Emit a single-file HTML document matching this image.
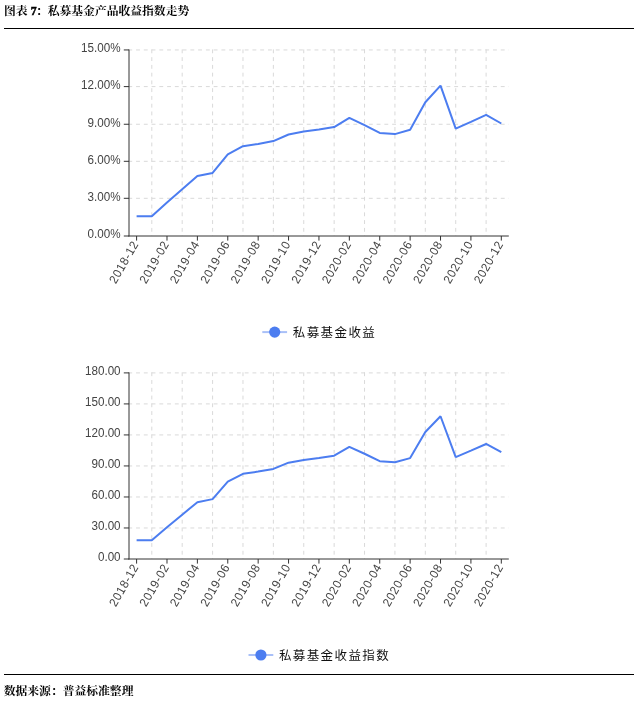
<!DOCTYPE html>
<html><head><meta charset="utf-8"><title>私募基金产品收益指数走势</title>
<style>
html,body{margin:0;padding:0;background:#fff;}
body{width:643px;height:702px;overflow:hidden;font-family:"Liberation Sans",sans-serif;}
svg{display:block;will-change:transform}
svg text{font-family:"Liberation Sans",sans-serif;font-size:12.15px;fill:#444;}
svg text.xl{letter-spacing:0.62px}
</style></head><body>
<svg width="643" height="702" viewBox="0 0 643 702">
<rect width="643" height="702" fill="#fff"/>
<text x="4" y="15.1" style="font-family:'Liberation Serif','Noto Serif CJK SC',serif;font-weight:bold;font-size:11.8px;fill:#000">图表</text><text x="30.8" y="14.85" style="font-family:'Liberation Serif',serif;font-weight:bold;font-size:11.8px;fill:#000;stroke:#000;stroke-width:0.5px">7</text><text x="35.9" y="15.1" style="font-family:'Liberation Serif','Noto Serif CJK SC',serif;font-weight:bold;font-size:11.8px;fill:#000">：私募基金产品收益指数走势</text>
<path d="M4 28.5H634M4 674.5H634" stroke="#000" stroke-width="1"/>
<path d="M128.3 49.95H508.8M128.3 86.60H508.8M128.3 124.25H508.8M128.3 161.30H508.8M128.3 198.30H508.8M151.80 49.40V236.0M182.19 49.40V236.0M212.58 49.40V236.0M242.97 49.40V236.0M273.36 49.40V236.0M303.76 49.40V236.0M334.15 49.40V236.0M364.54 49.40V236.0M394.93 49.40V236.0M425.32 49.40V236.0M455.72 49.40V236.0M486.11 49.40V236.0" stroke="#d9d9d9" stroke-width="1" stroke-dasharray="3.88 3.88" fill="none"/>
<path d="M129.0 49.50V236.50M128.5 236.0H508.8M123.80 49.95H129.0M123.80 86.60H129.0M123.80 124.25H129.0M123.80 161.30H129.0M123.80 198.30H129.0M123.80 236.00H129.0M136.60 236.0V240.60M166.99 236.0V240.60M197.38 236.0V240.60M227.78 236.0V240.60M258.17 236.0V240.60M288.56 236.0V240.60M318.95 236.0V240.60M349.34 236.0V240.60M379.74 236.0V240.60M410.13 236.0V240.60M440.52 236.0V240.60M470.91 236.0V240.60M501.30 236.0V240.60" stroke="#333" stroke-width="1" fill="none"/>
<text transform="translate(120.6 52.25) scale(0.96 1)" text-anchor="end">15.00%</text>
<text transform="translate(120.6 88.90) scale(0.96 1)" text-anchor="end">12.00%</text>
<text transform="translate(120.6 126.55) scale(0.96 1)" text-anchor="end">9.00%</text>
<text transform="translate(120.6 163.60) scale(0.96 1)" text-anchor="end">6.00%</text>
<text transform="translate(120.6 200.60) scale(0.96 1)" text-anchor="end">3.00%</text>
<text transform="translate(120.6 238.30) scale(0.96 1)" text-anchor="end">0.00%</text>
<text class="xl" transform="translate(135.10 242.10) rotate(-60) scale(0.96 1)" x="0.62" y="4.35" text-anchor="end">2018-12</text>
<text class="xl" transform="translate(165.49 242.10) rotate(-60) scale(0.96 1)" x="0.62" y="4.35" text-anchor="end">2019-02</text>
<text class="xl" transform="translate(195.88 242.10) rotate(-60) scale(0.96 1)" x="0.62" y="4.35" text-anchor="end">2019-04</text>
<text class="xl" transform="translate(226.28 242.10) rotate(-60) scale(0.96 1)" x="0.62" y="4.35" text-anchor="end">2019-06</text>
<text class="xl" transform="translate(256.67 242.10) rotate(-60) scale(0.96 1)" x="0.62" y="4.35" text-anchor="end">2019-08</text>
<text class="xl" transform="translate(287.06 242.10) rotate(-60) scale(0.96 1)" x="0.62" y="4.35" text-anchor="end">2019-10</text>
<text class="xl" transform="translate(317.45 242.10) rotate(-60) scale(0.96 1)" x="0.62" y="4.35" text-anchor="end">2019-12</text>
<text class="xl" transform="translate(347.84 242.10) rotate(-60) scale(0.96 1)" x="0.62" y="4.35" text-anchor="end">2020-02</text>
<text class="xl" transform="translate(378.24 242.10) rotate(-60) scale(0.96 1)" x="0.62" y="4.35" text-anchor="end">2020-04</text>
<text class="xl" transform="translate(408.63 242.10) rotate(-60) scale(0.96 1)" x="0.62" y="4.35" text-anchor="end">2020-06</text>
<text class="xl" transform="translate(439.02 242.10) rotate(-60) scale(0.96 1)" x="0.62" y="4.35" text-anchor="end">2020-08</text>
<text class="xl" transform="translate(469.41 242.10) rotate(-60) scale(0.96 1)" x="0.62" y="4.35" text-anchor="end">2020-10</text>
<text class="xl" transform="translate(499.80 242.10) rotate(-60) scale(0.96 1)" x="0.62" y="4.35" text-anchor="end">2020-12</text>
<polyline points="136.60,216.15 151.80,216.15 166.99,202.50 182.19,189.30 197.38,176.10 212.58,172.90 227.78,154.40 242.97,146.20 258.17,143.90 273.36,141.10 288.56,134.50 303.76,131.60 318.95,129.50 334.15,127.10 349.34,117.80 364.54,125.10 379.74,132.90 394.93,134.10 410.13,129.70 425.32,102.20 440.52,85.60 455.72,128.60 470.91,121.80 486.11,114.80 501.30,123.50" fill="none" stroke="#4c7df0" stroke-width="2" stroke-linejoin="bevel"/>
<path d="M128.3 372.90H508.8M128.3 403.92H508.8M128.3 434.93H508.8M128.3 465.95H508.8M128.3 496.97H508.8M128.3 527.98H508.8M151.80 372.30V559.0M182.19 372.30V559.0M212.58 372.30V559.0M242.97 372.30V559.0M273.36 372.30V559.0M303.76 372.30V559.0M334.15 372.30V559.0M364.54 372.30V559.0M394.93 372.30V559.0M425.32 372.30V559.0M455.72 372.30V559.0M486.11 372.30V559.0" stroke="#d9d9d9" stroke-width="1" stroke-dasharray="3.88 3.88" fill="none"/>
<path d="M129.0 372.40V559.50M128.5 559.0H508.8M123.80 372.90H129.0M123.80 403.92H129.0M123.80 434.93H129.0M123.80 465.95H129.0M123.80 496.97H129.0M123.80 527.98H129.0M123.80 559.00H129.0M136.60 559.0V563.60M166.99 559.0V563.60M197.38 559.0V563.60M227.78 559.0V563.60M258.17 559.0V563.60M288.56 559.0V563.60M318.95 559.0V563.60M349.34 559.0V563.60M379.74 559.0V563.60M410.13 559.0V563.60M440.52 559.0V563.60M470.91 559.0V563.60M501.30 559.0V563.60" stroke="#333" stroke-width="1" fill="none"/>
<text transform="translate(120.6 375.20) scale(0.96 1)" text-anchor="end">180.00</text>
<text transform="translate(120.6 406.22) scale(0.96 1)" text-anchor="end">150.00</text>
<text transform="translate(120.6 437.23) scale(0.96 1)" text-anchor="end">120.00</text>
<text transform="translate(120.6 468.25) scale(0.96 1)" text-anchor="end">90.00</text>
<text transform="translate(120.6 499.27) scale(0.96 1)" text-anchor="end">60.00</text>
<text transform="translate(120.6 530.28) scale(0.96 1)" text-anchor="end">30.00</text>
<text transform="translate(120.6 561.30) scale(0.96 1)" text-anchor="end">0.00</text>
<text class="xl" transform="translate(135.10 565.10) rotate(-60) scale(0.96 1)" x="0.62" y="4.35" text-anchor="end">2018-12</text>
<text class="xl" transform="translate(165.49 565.10) rotate(-60) scale(0.96 1)" x="0.62" y="4.35" text-anchor="end">2019-02</text>
<text class="xl" transform="translate(195.88 565.10) rotate(-60) scale(0.96 1)" x="0.62" y="4.35" text-anchor="end">2019-04</text>
<text class="xl" transform="translate(226.28 565.10) rotate(-60) scale(0.96 1)" x="0.62" y="4.35" text-anchor="end">2019-06</text>
<text class="xl" transform="translate(256.67 565.10) rotate(-60) scale(0.96 1)" x="0.62" y="4.35" text-anchor="end">2019-08</text>
<text class="xl" transform="translate(287.06 565.10) rotate(-60) scale(0.96 1)" x="0.62" y="4.35" text-anchor="end">2019-10</text>
<text class="xl" transform="translate(317.45 565.10) rotate(-60) scale(0.96 1)" x="0.62" y="4.35" text-anchor="end">2019-12</text>
<text class="xl" transform="translate(347.84 565.10) rotate(-60) scale(0.96 1)" x="0.62" y="4.35" text-anchor="end">2020-02</text>
<text class="xl" transform="translate(378.24 565.10) rotate(-60) scale(0.96 1)" x="0.62" y="4.35" text-anchor="end">2020-04</text>
<text class="xl" transform="translate(408.63 565.10) rotate(-60) scale(0.96 1)" x="0.62" y="4.35" text-anchor="end">2020-06</text>
<text class="xl" transform="translate(439.02 565.10) rotate(-60) scale(0.96 1)" x="0.62" y="4.35" text-anchor="end">2020-08</text>
<text class="xl" transform="translate(469.41 565.10) rotate(-60) scale(0.96 1)" x="0.62" y="4.35" text-anchor="end">2020-10</text>
<text class="xl" transform="translate(499.80 565.10) rotate(-60) scale(0.96 1)" x="0.62" y="4.35" text-anchor="end">2020-12</text>
<polyline points="136.60,540.16 151.80,540.16 166.99,527.21 182.19,514.68 197.38,502.15 212.58,499.12 227.78,481.56 242.97,473.78 258.17,471.60 273.36,468.94 288.56,462.68 303.76,459.92 318.95,457.93 334.15,455.65 349.34,446.83 364.54,453.76 379.74,461.16 394.93,462.30 410.13,458.12 425.32,432.02 440.52,416.27 455.72,457.08 470.91,450.62 486.11,443.98 501.30,452.24" fill="none" stroke="#4c7df0" stroke-width="2" stroke-linejoin="bevel"/>
<path d="M262.3 332.1H287.1" stroke="#a9c0f8" stroke-width="2"/>
<circle cx="274.7" cy="332.1" r="5.6" fill="#4c7df0"/>
<text x="292.8" y="336.8" style="font-family:'Liberation Sans','Noto Sans CJK SC',sans-serif;font-size:12.5px;letter-spacing:1.4px;fill:#111">私募基金收益</text>
<path d="M248.5 655.0H273.3" stroke="#a9c0f8" stroke-width="2"/>
<circle cx="260.9" cy="655.0" r="5.6" fill="#4c7df0"/>
<text x="278.9" y="659.7" style="font-family:'Liberation Sans','Noto Sans CJK SC',sans-serif;font-size:12.5px;letter-spacing:1.4px;fill:#111">私募基金收益指数</text>
<text x="3.7" y="695.3" style="font-family:'Liberation Serif','Noto Serif CJK SC',serif;font-weight:bold;font-size:11.8px;fill:#000">数据来源：普益标准整理</text>
</svg>
</body></html>
